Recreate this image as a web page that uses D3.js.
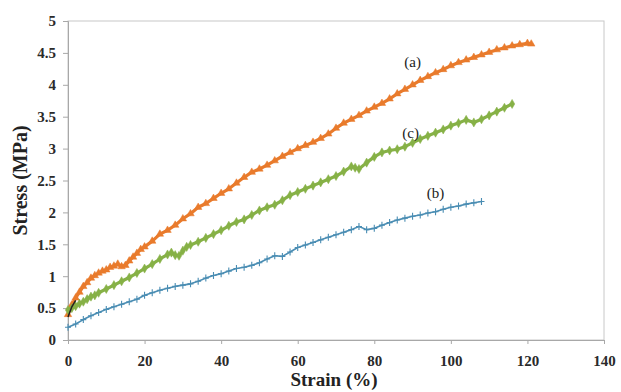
<!DOCTYPE html>
<html>
<head>
<meta charset="utf-8">
<script src="https://cdn.jsdelivr.net/npm/d3@7"></script>
<style>
  html, body { margin: 0; padding: 0; background: #fff; }
  svg { display: block; }
</style>
</head>
<body>
<svg id="chart" width="621" height="392" font-family="Liberation Serif, DejaVu Serif, serif"></svg>
<script>
// Stress–strain curves for three samples (strain %, stress MPa)
const strainA = [0,1,2,3,4,5,6,7,8,9,10,11,12,13,14,15,16,17,18,19,20,22,24,26,28,30,32,34,36,38,40,42,44,46,48,50,52,54,56,58,60,62,64,66,68,70,72,74,76,78,80,82,84,86,88,90,92,94,96,98,100,102,104,106,108,110,112,114,116,118,120,121];
const stressA = [0.40,0.55,0.66,0.75,0.84,0.90,0.97,1.01,1.05,1.08,1.10,1.14,1.16,1.19,1.15,1.17,1.24,1.30,1.36,1.42,1.46,1.55,1.66,1.72,1.80,1.90,1.98,2.08,2.14,2.22,2.30,2.37,2.46,2.55,2.63,2.68,2.74,2.81,2.88,2.94,3.00,3.05,3.10,3.16,3.23,3.32,3.40,3.46,3.52,3.59,3.65,3.71,3.78,3.86,3.93,4.00,4.07,4.13,4.19,4.24,4.30,4.35,4.39,4.43,4.47,4.51,4.55,4.58,4.61,4.63,4.65,4.64];

const strainB = [0,2,4,6,8,10,12,14,16,18,20,22,24,26,28,30,32,34,36,38,40,42,44,46,48,50,52,54,56,58,60,62,64,66,68,70,72,74,76,78,80,82,84,86,88,90,92,94,96,98,100,102,104,106,108];
const stressB = [0.20,0.25,0.32,0.38,0.43,0.48,0.52,0.56,0.60,0.64,0.70,0.74,0.78,0.81,0.84,0.86,0.88,0.92,0.97,1.01,1.04,1.08,1.12,1.14,1.17,1.21,1.27,1.32,1.31,1.38,1.45,1.49,1.53,1.57,1.61,1.65,1.69,1.73,1.78,1.73,1.75,1.80,1.84,1.88,1.91,1.94,1.96,1.99,2.01,2.05,2.08,2.10,2.13,2.15,2.17];

const strainC = [0,1,2,3,4,5,6,7,8,10,12,14,16,18,20,22,24,26,27,28,29,30,31,32,34,36,38,40,42,44,46,48,50,52,54,56,58,60,62,64,66,68,70,72,74,75,76,78,80,82,84,86,88,90,92,94,96,98,100,102,104,106,108,110,112,114,116];
const stressC = [0.47,0.50,0.53,0.57,0.60,0.64,0.68,0.70,0.74,0.80,0.86,0.92,0.98,1.05,1.12,1.19,1.27,1.34,1.37,1.33,1.32,1.40,1.46,1.49,1.54,1.60,1.66,1.72,1.79,1.85,1.89,1.96,2.03,2.08,2.12,2.19,2.27,2.32,2.37,2.42,2.47,2.52,2.57,2.64,2.72,2.70,2.68,2.78,2.87,2.94,2.97,2.99,3.03,3.09,3.15,3.20,3.25,3.30,3.36,3.40,3.45,3.41,3.46,3.52,3.58,3.64,3.70];

const xTicks = [0,20,40,60,80,100,120,140];
const yTicks = [0,0.5,1,1.5,2,2.5,3,3.5,4,4.5,5];

const series = [
  { name: "(a)", xs: strainA, ys: stressA, color: "#E97B2C", marker: "triangle", label: [90, 4.28] },
  { name: "(c)", xs: strainC, ys: stressC, color: "#86B146", marker: "diamond", label: [89.5, 3.17] },
  { name: "(b)", xs: strainB, ys: stressB, color: "#4A8DB3", marker: "cross", label: [96, 2.23] }
];

const FONT = "Liberation Serif, DejaVu Serif, serif";
const svg = d3.select("#chart");
const plotLeft = 68, plotRight = 604, plotTop = 21, plotBottom = 340;

const x = d3.scaleLinear().domain([0, 140]).range([plotLeft, plotRight]);
const y = d3.scaleLinear().domain([0, 5]).range([plotBottom, plotTop]);

// plot frame
svg.append("rect")
  .attr("x", plotLeft).attr("y", plotTop)
  .attr("width", plotRight - plotLeft).attr("height", plotBottom - plotTop)
  .attr("fill", "#fff").attr("stroke", "#c8c8c8").attr("stroke-width", 1);

// axes
const xAxis = svg.append("g")
  .attr("transform", `translate(0,${plotBottom})`)
  .call(d3.axisBottom(x).tickValues(xTicks).tickSize(4).tickPadding(11).tickFormat(d3.format("d")));
const yAxis = svg.append("g")
  .attr("transform", `translate(${plotLeft},0)`)
  .call(d3.axisLeft(y).tickValues(yTicks).tickSize(5).tickPadding(7).tickFormat(d => String(d)));

[xAxis, yAxis].forEach(g => {
  g.attr("font-family", FONT).attr("font-size", 15);
  g.select(".domain").attr("stroke", "#a8a8a8");
  g.selectAll(".tick line").attr("stroke", "#a8a8a8");
  g.selectAll(".tick text")
    .attr("fill", "#2a2a2a")
    .attr("font-weight", "bold");
});

// marker shapes
const symbolFor = {
  triangle: d3.symbol().type(d3.symbolTriangle).size(24),
  diamond: d3.symbol().type(d3.symbolDiamond).size(24)
};

const line = d3.line().x(d => x(d[0])).y(d => y(d[1]));

series.forEach(s => {
  const pts = s.xs.map((v, i) => [v, s.ys[i]]);
  svg.append("path")
    .datum(pts)
    .attr("d", line)
    .attr("fill", "none")
    .attr("stroke", s.color)
    .attr("stroke-width", s.marker === "cross" ? 1.6 : 3.2)
    .attr("stroke-linejoin", "round");

  const g = svg.append("g");
  if (s.marker === "cross") {
    g.selectAll("path.m").data(pts).join("path")
      .attr("class", "m")
      .attr("d", d => {
        const cx = x(d[0]), cy = y(d[1]);
        return `M${cx - 3},${cy}H${cx + 3}M${cx},${cy - 3.5}V${cy + 3.5}`;
      })
      .attr("stroke", s.color)
      .attr("stroke-width", 1.1)
      .attr("fill", "none");
  } else {
    g.selectAll("path.m").data(pts).join("path")
      .attr("class", "m")
      .attr("transform", d => `translate(${x(d[0])},${y(d[1])})`)
      .attr("d", symbolFor[s.marker])
      .attr("fill", s.color)
      .attr("stroke", s.color)
      .attr("stroke-width", 0.5);
  }

  svg.append("text")
    .attr("x", x(s.label[0]))
    .attr("y", y(s.label[1]))
    .attr("text-anchor", "middle")
    .attr("fill", "#222")
    .attr("font-family", FONT)
    .attr("font-size", 15)
    .text(s.name);
});

// short dark start segment of curve (a)
svg.append("path")
  .datum([[0, 0.36], [1, 0.52], [2, 0.62]])
  .attr("d", line)
  .attr("fill", "none")
  .attr("stroke", "#222")
  .attr("stroke-width", 1.5);

// axis titles
svg.append("text")
  .attr("x", 334)
  .attr("y", 386)
  .attr("text-anchor", "middle")
  .attr("font-weight", "bold")
  .attr("fill", "#222")
  .attr("font-family", FONT)
  .attr("font-size", 19)
  .text("Strain (%)");

svg.append("text")
  .attr("transform", `translate(27,${(plotTop + plotBottom) / 2}) rotate(-90)`)
  .attr("text-anchor", "middle")
  .attr("font-weight", "bold")
  .attr("fill", "#222")
  .attr("font-family", FONT)
  .attr("font-size", 20)
  .text("Stress (MPa)");
</script>
</body>
</html>
